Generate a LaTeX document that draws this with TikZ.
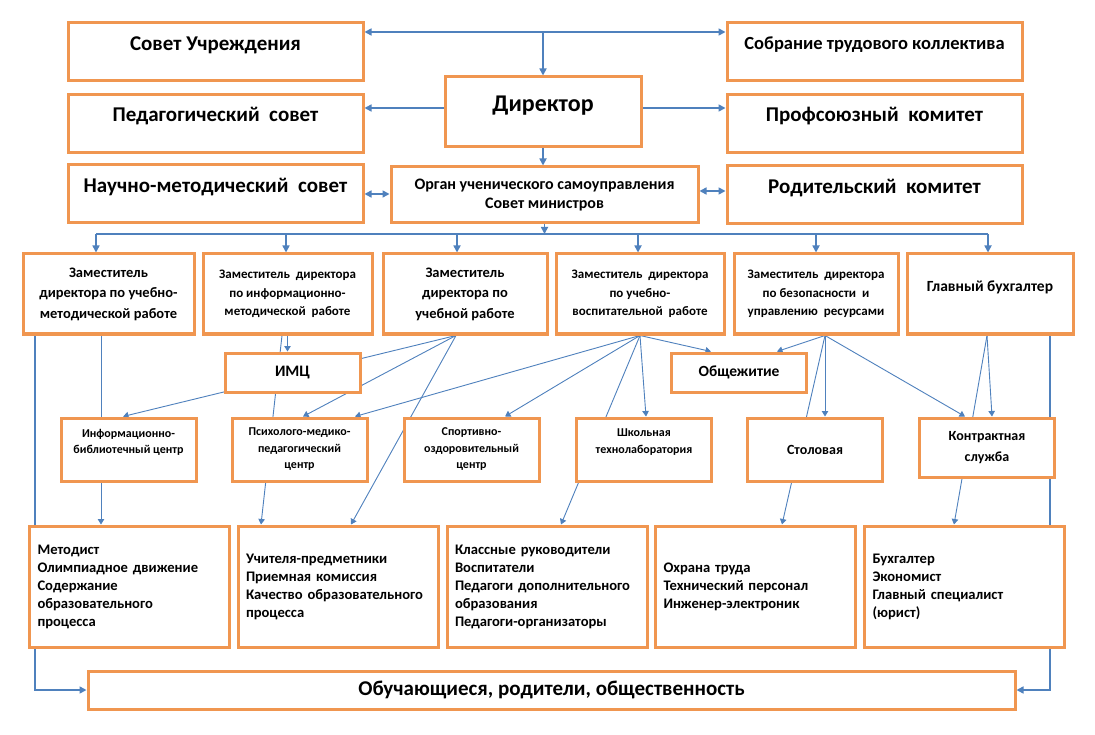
\documentclass[tikz,border=0pt]{standalone}
\usepackage{fontspec}
\setmainfont{Carlito}
\usetikzlibrary{arrows.meta,backgrounds}
\definecolor{boxorange}{RGB}{240,150,80}
\definecolor{lineblue}{RGB}{79,129,189}
\newcommand{\txtsize}[2]{\fontsize{#1}{#2}\selectfont\bfseries}

\begin{document}
\begin{tikzpicture}
[x=1pt,y=-1pt,
 obox/.style={draw=boxorange,line width=3pt,fill=white,align=center,inner sep=2pt},
 sidebox/.style={obox,minimum width=295pt,minimum height=58pt},
 depbox/.style={obox,minimum height=80pt},
 midbox/.style={obox,minimum width=135pt,minimum height=39pt},
 ubox/.style={obox,minimum width=135pt,minimum height=63pt},
 staffbox/.style={obox,align=left,text width=184pt,inner xsep=8pt,minimum height=121pt,font=\txtsize{14.6}{18}},
 bigtxt/.style={font=\txtsize{21}{25}},
 t24/.style={font=\txtsize{24}{28}},
 t18/.style={font=\txtsize{18.5}{22}},
 t16/.style={font=\txtsize{16}{20}},
 t15/.style={font=\txtsize{15.5}{19}},
 t14/.style={font=\txtsize{14.5}{20.5}},
 t13/.style={font=\txtsize{13}{18.5}},
 t12s/.style={font=\txtsize{12}{16.5}},
 busline/.style={draw=lineblue,line width=1.6pt,>={Triangle[length=7pt,width=7pt]}},
 thinarr/.style={draw=lineblue,line width=0.9pt,-{Triangle[length=5.5pt,width=6.5pt]}}]
\useasboundingbox (0,0) rectangle (1095,735);

\node[sidebox] (sovet) at (215.5,52) {};
\node[bigtxt] (sovet-t) at (215.5,45) {Совет Учреждения};
\node[sidebox] (sobr) at (874.5,52) {};
\node[t18] (sobr-t) at (874.5,45) {Собрание трудового коллектива};
\node[sidebox] (ped) at (215.5,123.5) {};
\node[bigtxt] (ped-t) at (215.5,116) {Педагогический\ \ совет};
\node[sidebox] (prof) at (874.5,123.5) {};
\node[bigtxt] (prof-t) at (874.5,116) {Профсоюзный\ \ комитет};
\node[sidebox] (nms) at (215.5,194) {};
\node[bigtxt] (nms-t) at (215.5,187) {Научно-методический\ \ совет};
\node[sidebox] (rod) at (874.5,194.5) {};
\node[bigtxt] (rod-t) at (874.5,188) {Родительский\ \ комитет};
\node[obox,minimum width=196pt,minimum height=70pt] (dir) at (543,112) {};
\node[t24] (dir-t) at (543,106) {Директор};
\node[obox,minimum width=307pt,minimum height=56pt,font=\txtsize{16}{19}] (org) at (544.5,195) {Орган ученического самоуправления\\Совет министров};

\node[depbox,minimum width=171pt,t14] (dep1) at (108.5,294) {Заместитель\\директора по учебно-\\методической работе};
\node[depbox,minimum width=169pt,t13] (dep2) at (287.5,294) {Заместитель\ \ директора\\по информационно-\\методической\ \ работе};
\node[depbox,minimum width=164pt,t14] (dep3) at (465,294) {Заместитель\\директора по\\учебной работе};
\node[depbox,minimum width=168pt,t13] (dep4) at (640,294) {Заместитель\ \ директора\\по учебно-\\воспитательной\ \ работе};
\node[depbox,minimum width=164pt,t13] (dep5) at (816,294) {Заместитель\ \ директора\\по безопасности\ \ и\\управлению\ \ ресурсами};
\node[depbox,minimum width=166pt,font=\txtsize{15.5}{16}] (dep6) at (990,294) {Главный бухгалтер\\\mbox{}};

\node[midbox,t16] (imc) at (292.5,372.5) {ИМЦ};
\node[midbox,font=\txtsize{15.5}{19}] (obsh) at (739,372.5) {Общежитие};

\node[ubox,t12s] (info) at (128.5,449.5) {Информационно-\\библиотечный центр\\\mbox{}};
\node[ubox,t12s] (psy) at (299.5,449.5) {Психолого-медико-\\педагогический\\центр};
\node[ubox,t12s] (sport) at (471.5,449.5) {Спортивно-\\оздоровительный\\центр};
\node[ubox,t12s] (shk) at (644,449.5) {Школьная\\технолаборатория\\\mbox{}};
\node[ubox,font=\txtsize{14}{20.5}] (stol) at (815,449.5) {Столовая};
\node[ubox,font=\txtsize{14}{20.5},minimum height=59pt] (kon) at (987,447.5) {Контрактная\\служба};

\node[staffbox] (met) at (129.5,586.5) {Методист\\Олимпиадное движение\\Содержание\\образовательного\\процесса};
\node[staffbox] (uch) at (338,586.5) {Учителя-предметники\\Приемная комиссия\\Качество образовательного\\процесса};
\node[staffbox] (kl) at (547,586.5) {Классные руководители\\Воспитатели\\Педагоги дополнительного\\образования\\Педагоги-организаторы};
\node[staffbox] (ohr) at (755.5,586.5) {Охрана труда\\Технический персонал\\Инженер-электроник};
\node[staffbox] (buh) at (964.5,586.5) {Бухгалтер\\Экономист\\Главный специалист\\(юрист)};

\node[obox,minimum width=927pt,minimum height=38pt,bigtxt] (obu) at (551.5,690) {Обучающиеся,\ родители,\ общественность};

\coordinate (top) at (543,32);
\coordinate (bus) at (545,234);
\coordinate (a1) at ([xshift=-7.5pt]dep1.south);
\coordinate (a2) at ([xshift=-5.5pt]dep2.south);
\coordinate (a3) at ([xshift=-9pt]dep3.south);
\coordinate (a4) at (dep4.south);
\coordinate (a5) at ([xshift=9pt]dep5.south);
\coordinate (a6) at ([xshift=-3pt]dep6.south);
\coordinate (l0) at ([xshift=-73.5pt]dep1.south);
\coordinate (r0) at ([xshift=60pt]dep6.south);

\begin{scope}[on background layer]
\fill[white] (0,0) rectangle (1095,735);
\draw[busline,<->] (sovet.east |- top) -- (sobr.west |- top);
\draw[busline,->] (top) -- (dir.north);
\draw[busline,->] ([yshift=4pt]dir.west) -- ([yshift=4pt]dir.west -| ped.east);
\draw[busline,->] ([yshift=4pt]dir.east) -- ([yshift=4pt]dir.east -| prof.west);
\draw[busline,->] (dir.south) -- (dir.south |- org.north);
\draw[busline,<->] (nms.east) -- (nms.east -| org.west);
\draw[busline,<->] ([yshift=4pt]org.east) -- ([yshift=4pt]org.east -| rod.west);
\draw[busline,->] (org.south) -- (org.south |- bus);
\draw[busline] ([xshift=-12.5pt]dep1.north |- bus) -- ([xshift=-2pt]dep6.north |- bus);
\foreach \d/\dx in {dep1/-12.5,dep2/-1.5,dep3/-8,dep4/-2,dep5/0,dep6/-2}
\draw[busline,->] ([xshift=\dx pt]\d.north |- bus) -- ([xshift=\dx pt]\d.north);
\draw[busline,->] (l0) |- (obu.west);
\draw[busline,->] (r0) |- (obu.east);

\foreach \from/\to/\dx in {a1/met/-28.5,a2/uch/-77,dep2.south/imc/-5,a3/info/-5.5,a3/psy/3.5,a3/uch/13,a4/psy/55.5,a4/sport/33.5,a4/shk/2,a4/kl/14,a4/obsh/-28,a5/obsh/38,a5/stol/10,a5/ohr/26.5,a5/kon/-22,a6/kon/5,a6/buh/-10.5}
\draw[thinarr] (\from) -- ([xshift=\dx pt]\to.north);
\end{scope}
\end{tikzpicture}
\end{document}
